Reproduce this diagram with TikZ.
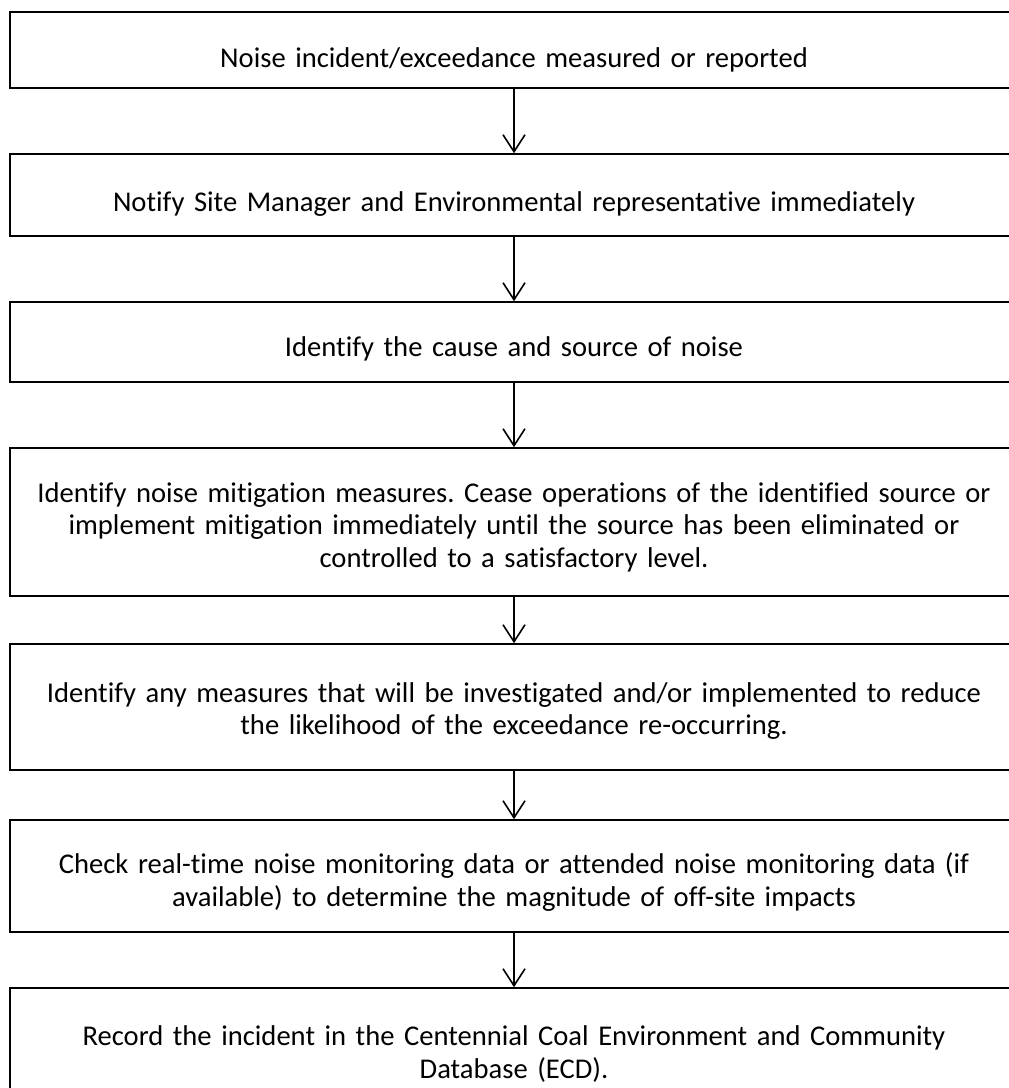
\documentclass[tikz,border=0pt]{standalone}
\usepackage{fontspec}
\setmainfont{Carlito}[Ligatures=NoCommon]
\usetikzlibrary{arrows.meta}
\frenchspacing
\tikzset{
  flowbox/.style={draw=black, line width=1.6pt, minimum width=1008pt, inner sep=0pt,
    text width=1000pt, align=center, font=\fontsize{28.6pt}{32.5pt}\selectfont},
  tshift/.style={execute at begin node={\rule{0pt}{#1}}},
  flowarrow/.style={line width=1.6pt, -{Straight Barb[length=17pt,width=22pt,line width=1.6pt]}}
}
\begin{document}
\begin{tikzpicture}[x=1pt,y=-1pt]
\useasboundingbox (0,0) rectangle (1009,1088);
\node[flowbox, minimum height=76pt, tshift=39pt] (b1) at (514,50) {Noise incident/exceedance measured or reported};
\node[flowbox, minimum height=82pt, tshift=37pt] (b2) at (514,195) {Notify Site Manager and Environmental representative immediately};
\node[flowbox, minimum height=80pt, tshift=34pt] (b3) at (514,342) {Identify the cause and source of noise};
\node[flowbox, minimum height=148pt, tshift=30pt] (b4) at (514,522) {Identify noise mitigation measures. Cease operations of the identified source or\\ implement mitigation immediately until the source has been eliminated or\\ controlled to a satisfactory level.};
\node[flowbox, minimum height=126pt, tshift=28pt] (b5) at (514,707) {Identify any measures that will be investigated and/or implemented to reduce\\ the likelihood of the exceedance re-occurring.};
\node[flowbox, minimum height=112pt, tshift=33pt] (b6) at (514,876) {Check real-time noise monitoring data or attended noise monitoring data (if\\ available) to determine the magnitude of off-site impacts};
\node[flowbox, minimum height=128pt, tshift=24pt] (b7) at (514,1052) {Record the incident in the Centennial Coal Environment and Community\\ Database (ECD).};
\draw[flowarrow] (b1.south) -- (b2.north);
\draw[flowarrow] (b2.south) -- (b3.north);
\draw[flowarrow] (b3.south) -- (b4.north);
\draw[flowarrow] (b4.south) -- (b5.north);
\draw[flowarrow] (b5.south) -- (b6.north);
\draw[flowarrow] (b6.south) -- (b7.north);
\end{tikzpicture}
\end{document}
